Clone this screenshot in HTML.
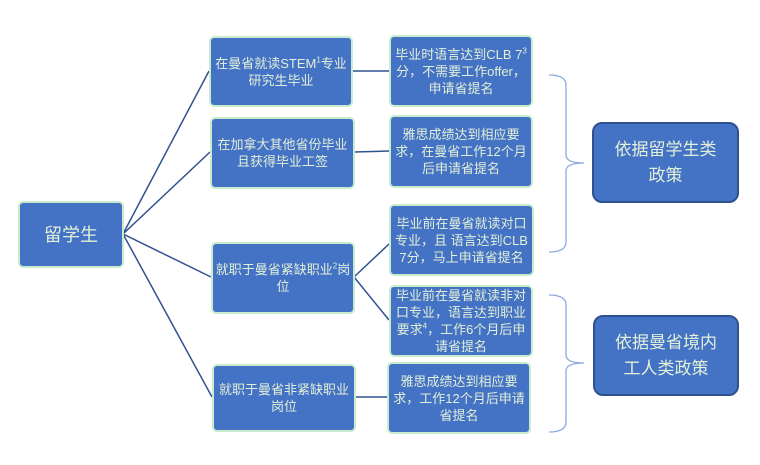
<!DOCTYPE html>
<html><head><meta charset="utf-8"><style>
body{margin:0;background:#fff;width:760px;height:465px;overflow:hidden;position:relative;font-family:"Liberation Sans","Noto Sans CJK SC",sans-serif}
.b{position:absolute;box-sizing:border-box;background:#4472C4;border:2px solid #c9eccf;border-radius:5px;color:#e2f0d9;font-size:13px;line-height:17px;display:flex;align-items:center;justify-content:center;text-align:center;padding:0 1px}
.b span{display:block}
.big{border:2px solid #2f528f;border-radius:10px;font-size:17px;line-height:26px}
sup{font-size:8px;line-height:0;vertical-align:super}
svg{position:absolute;left:0;top:0}
</style></head><body>
<svg width="760" height="465">
<g stroke="#2f528f" stroke-width="1.5" fill="none">
<line x1="123" y1="234" x2="209" y2="71"/>
<line x1="123" y1="234" x2="210" y2="152"/>
<line x1="123" y1="234" x2="211" y2="277"/>
<line x1="123" y1="234" x2="212" y2="397"/>
<line x1="352" y1="71" x2="389" y2="71"/>
<line x1="354" y1="152" x2="389" y2="151"/>
<line x1="354" y1="277" x2="389" y2="244"/>
<line x1="354" y1="277" x2="389" y2="320"/>
<line x1="355" y1="397" x2="387" y2="397"/>
</g>
<g stroke="#8faadc" stroke-width="1.3" fill="none">
<path d="M549 75 Q566 75 566 85 L566 155 Q566 163 584 163 Q566 163 566 171 L566 242 Q566 252 549 252"/>
<path d="M549 295 Q566 295 566 305 L566 355 Q566 363 584 363 Q566 363 566 371 L566 422 Q566 432 549 432"/>
</g>
</svg>
<div class="b big" style="left:18px;top:201px;width:106px;height:67px;border-color:#c9eccf;border-radius:5px;font-size:18px"><span>留学生</span></div>
<div class="b" style="left:209px;top:36px;width:144px;height:71px"><span>在曼省就读STEM<sup>1</sup>专业研究生毕业</span></div>
<div class="b" style="left:210px;top:117px;width:145px;height:72px"><span>在加拿大其他省份毕业且获得毕业工签</span></div>
<div class="b" style="left:211px;top:242px;width:144px;height:72px"><span>就职于曼省紧缺职业<sup>2</sup>岗位</span></div>
<div class="b" style="left:212px;top:364px;width:144px;height:68px"><span>就职于曼省非紧缺职业岗位</span></div>
<div class="b" style="left:389px;top:35px;width:144px;height:72px"><span>毕业时语言达到CLB 7<sup>3</sup>分，不需要工作offer，申请省提名</span></div>
<div class="b" style="left:389px;top:115px;width:144px;height:73px"><span>雅思成绩达到相应要求，在曼省工作12个月后申请省提名</span></div>
<div class="b" style="left:389px;top:204px;width:145px;height:72px"><span>毕业前在曼省就读对口专业，且 语言达到CLB 7分，马上申请省提名</span></div>
<div class="b" style="left:389px;top:285px;width:144px;height:72px"><span>毕业前在曼省就读非对口专业，语言达到职业要求<sup>4</sup>，工作6个月后申请省提名</span></div>
<div class="b" style="left:387px;top:362px;width:144px;height:72px"><span>雅思成绩达到相应要求，工作12个月后申请省提名</span></div>
<div class="b big" style="left:592px;top:122px;width:147px;height:81px"><span>依据留学生类<br>政策</span></div>
<div class="b big" style="left:593px;top:315px;width:146px;height:81px"><span>依据曼省境内<br>工人类政策</span></div>
</body></html>
